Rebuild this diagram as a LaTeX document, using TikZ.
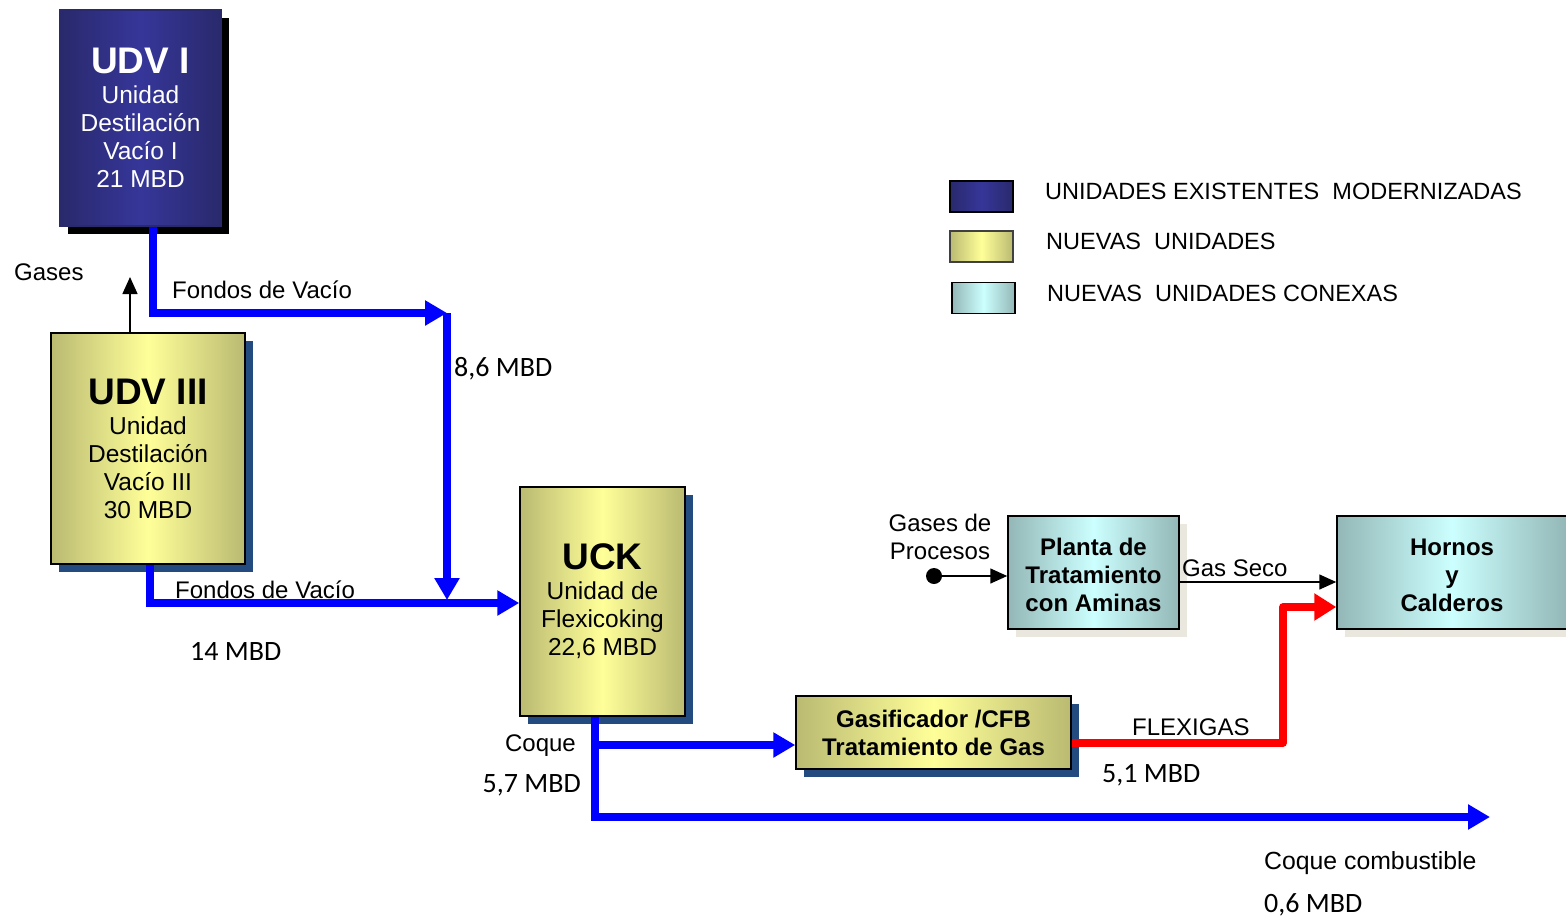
\documentclass[tikz,border=0pt]{standalone}
\usepackage{fontspec}
\setmainfont{Liberation Sans}
\newfontfamily\calfont{Carlito}
\usetikzlibrary{arrows.meta,shadows}

\definecolor{exedge}{HTML}{29296C}
\definecolor{exmid}{HTML}{36369A}
\definecolor{nuedge}{HTML}{BABA72}
\definecolor{numid}{HTML}{FFFF99}
\definecolor{cxedge}{HTML}{93B7B6}
\definecolor{cxmid}{HTML}{CCFFFF}
\definecolor{shblue}{HTML}{234B7F}
\definecolor{shgray}{HTML}{EAE7DF}
\definecolor{flowblue}{HTML}{0000FF}
\definecolor{flowred}{HTML}{FF0000}

% title line + description lines of a process unit
\newcommand\unittext[2]{{\bfseries\fontsize{37}{37}\selectfont #1}\\[2pt]#2}

\tikzset{
  unitbox/.style={inner sep=0pt, align=center, line width=1.5pt,
    font=\fontsize{24.5}{28}\selectfont},
  existing/.style={unitbox, draw=exedge, left color=exedge, right color=exedge,
    middle color=exmid, text=white,
    general shadow={fill=black, shadow xshift=8pt, shadow yshift=-8pt}},
  newunit/.style={unitbox, draw=black, left color=nuedge, right color=nuedge,
    middle color=numid, text=black,
    general shadow={fill=shblue, shadow xshift=8pt, shadow yshift=-8pt}},
  relunit/.style={unitbox, draw=black, left color=cxedge, right color=cxedge,
    middle color=cxmid, text=black,
    general shadow={fill=shgray, shadow xshift=8pt, shadow yshift=-8pt}},
  boldtext/.style={font=\bfseries\fontsize{24}{28}\selectfont},
  swatch/.style={draw=black, line width=1.5pt, minimum width=63pt,
    minimum height=31pt, inner sep=0pt},
  bigflow/.style={draw=flowblue, line width=7.5pt,
    -{Triangle[length=22pt,width=24pt]}},
  redflow/.style={draw=flowred, line width=7.5pt, line join=round,
    -{Triangle[length=22pt,width=26pt]}},
  thinflow/.style={draw=black, line width=1.5pt,
    -{Triangle[length=17pt,width=15pt]}},
  lbl/.style={inner sep=0pt, anchor=base west, font=\fontsize{24}{28}\selectfont},
  mbd/.style={inner sep=0pt, anchor=base west, font=\calfont\fontsize{28}{32}\selectfont},
  legtext/.style={inner sep=0pt, anchor=base west, font=\fontsize{23.5}{28}\selectfont},
}

\begin{document}
\begin{tikzpicture}[x=1pt, y=-1pt]
\useasboundingbox (0,0) rectangle (1566,919);

% process units
\node[existing, minimum width=161pt, minimum height=216pt] (udv1) at (140.5,118)
  {\unittext{UDV I}{Unidad\\Destilación\\Vacío I\\21 MBD}};
\node[newunit, minimum width=194pt, minimum height=231pt] (udv3) at (148,448.5)
  {\unittext{UDV III}{Unidad\\Destilación\\Vacío III\\30 MBD}};
\node[newunit, minimum width=165pt, minimum height=229pt] (uck) at (602.5,601.5)
  {\unittext{UCK}{Unidad de\\Flexicoking\\22,6 MBD}};
\node[newunit, boldtext, minimum width=275pt, minimum height=73pt] (gas) at (933.5,732.5)
  {Gasificador /CFB\\Tratamiento de Gas};
\node[relunit, boldtext, minimum width=171pt, minimum height=113pt] (planta) at (1093.5,572.5)
  {\rule{0pt}{23pt}Planta de\\Tratamiento\\con Aminas};
\node[relunit, boldtext, minimum width=230pt, minimum height=113pt] (hornos) at (1452,572.5)
  {\rule{0pt}{23pt}Hornos\\y\\Calderos};

% legend
\node[swatch, left color=exedge, right color=exedge, middle color=exmid] (lg1) at (981.5,196.5) {};
\node[swatch, draw=black!75, left color=nuedge, right color=nuedge, middle color=numid] (lg2) at (981.5,246.5) {};
\node[swatch, left color=cxedge, right color=cxedge, middle color=cxmid] (lg3) at (983.5,298) {};
\node[legtext] (lt1) at (1045,199) {UNIDADES EXISTENTES\ \ MODERNIZADAS};
\node[legtext] (lt2) at (1046,249) {NUEVAS\ \ UNIDADES};
\node[legtext] (lt3) at (1047,301) {NUEVAS\ \ UNIDADES CONEXAS};

% vacuum bottoms to the flexicoker
\coordinate (a1) at (153,313);
\coordinate (j1) at (447,313);
\coordinate (m1) at (447,600);
\coordinate (b1) at (150,603);
\draw[bigflow] (udv1.south -| a1) -- (a1) -- (j1);
\draw[bigflow] (j1) -- (m1);
\draw[bigflow] (udv3.south -| b1) -- (b1) -- (b1 -| uck.west);

% gases leaving UDV III
\coordinate (g1) at (130,277);
\draw[thinflow] (udv3.north -| g1) -- (g1);

% coke from the flexicoker
\coordinate (c1) at (595,745);
\coordinate (c2) at (595,817);
\coordinate (c3) at (1490,817);
\draw[bigflow] (uck.south -| c1) -- (c2) -- (c3);
\draw[bigflow] (c1) -- (c1 -| gas.west);

% flexigas to furnaces and boilers
\coordinate (r1) at (1283,743);
\coordinate (r2) at (1283,607);
\draw[redflow] (gas.east |- r1) -- (r1) -- (r2) -- (r2 -| hornos.west);

% process gases through the amine plant
\node[circle, fill=black, minimum size=16pt, inner sep=0pt] (dot) at (934,576) {};
\draw[thinflow] (dot) -- (dot -| planta.west);
\coordinate (s1) at (1200,582);
\draw[thinflow] (planta.east |- s1) -- (hornos.west |- s1);

% flow labels
\node[lbl] (lgases) at (14,280) {Gases};
\node[lbl] (lfv1) at (172,298) {Fondos de Vacío};
\node[mbd] (l86) at (454,376) {8,6 MBD};
\node[lbl] (lfv2) at (175,598) {Fondos de Vacío};
\node[mbd] (l14) at (190,660) {14 MBD};
\node[lbl, anchor=base east] (lcoq) at (576,751) {Coque};
\node[mbd, anchor=base east] (l57) at (581,792) {5,7 MBD};
\node[lbl] (lflex) at (1132,735) {FLEXIGAS};
\node[mbd] (l51) at (1102,782) {5,1 MBD};
\node[lbl, anchor=base] (lgp1) at (940,531) {Gases de};
\node[lbl, anchor=base] (lgp2) at (940,559) {Procesos};
\node[lbl] (lseco) at (1182,576) {Gas Seco};
\node[lbl, font=\fontsize{24.8}{28}\selectfont] (lcc) at (1264,869) {Coque combustible};
\node[mbd] (l06) at (1264,912) {0,6 MBD};
\end{tikzpicture}
\end{document}
